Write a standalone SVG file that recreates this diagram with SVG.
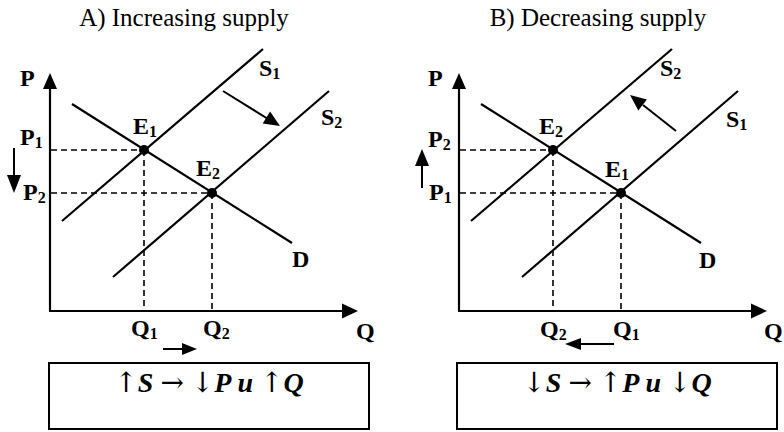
<svg xmlns="http://www.w3.org/2000/svg" width="784" height="432" viewBox="0 0 784 432">
<style>
text{font-family:"Liberation Serif","Times New Roman",serif;fill:#000}
.title{font-size:25px;text-anchor:middle}
.lbl{font-size:24px;font-weight:bold}
.sub{font-size:16px}
.curve{stroke:#000;stroke-width:2.2;fill:none;stroke-linecap:butt}
.axis{stroke:#000;stroke-width:2.2;fill:none}
.dash{stroke:#000;stroke-width:1.6;stroke-dasharray:6 4;fill:none}
.arr{stroke:#000;stroke-width:2;fill:none}
.head{fill:#000;stroke:none}
.box{fill:#fff;stroke:#000;stroke-width:2}
.eq{font-size:28px;text-anchor:middle}
.bi{font-weight:bold;font-style:italic}
.sym{font-family:"DejaVu Serif","Liberation Serif",serif;font-weight:normal;font-style:normal}
</style>
<rect width="784" height="432" fill="#fff"/>
<g id="panelA">
<text class="title" x="184" y="26">A) Increasing supply</text>
<g id="A-axes">
<line class="axis" x1="50" y1="311" x2="50" y2="86"/>
<polygon class="head" points="50,73 43,89 57,89"/>
<line class="axis" x1="49" y1="311" x2="344" y2="311"/>
<polygon class="head" points="358,311 342,303.5 342,318.5"/>
</g>
<g id="A-connectors">
<line class="dash" x1="51" y1="150" x2="144" y2="150"/>
<line class="dash" x1="51" y1="193" x2="212" y2="193"/>
<line class="dash" x1="144" y1="150" x2="144" y2="310"/>
<line class="dash" x1="212" y1="193" x2="212" y2="310"/>
<line class="curve" x1="62" y1="221" x2="263" y2="49"/>
<line class="curve" x1="113" y1="277" x2="329" y2="91"/>
<line class="curve" x1="72" y1="104" x2="292" y2="243"/>
<line class="arr" x1="14" y1="148" x2="14" y2="178"/>
<polygon class="head" points="14,193 7,175 21,175"/>
<line class="arr" x1="223" y1="91" x2="268" y2="119"/>
<polygon class="head" points="280,126 262.7,123.6 270.1,111.6"/>
<line class="arr" x1="163" y1="349" x2="184" y2="349"/>
<polygon class="head" points="197,349 182,343 182,355"/>
</g>
<g id="A-E1"><circle cx="144" cy="150" r="5"/><text class="lbl" x="133" y="134">E<tspan class="sub" dy="3">1</tspan></text></g>
<g id="A-E2"><circle cx="212" cy="193" r="5"/><text class="lbl" x="196" y="176">E<tspan class="sub" dy="3">2</tspan></text></g>
<text class="lbl" x="20" y="86">P</text>
<text class="lbl" x="20" y="145">P<tspan class="sub" dy="3">1</tspan></text>
<text class="lbl" x="23" y="200">P<tspan class="sub" dy="3">2</tspan></text>
<text class="lbl" x="259" y="76">S<tspan class="sub" dy="3">1</tspan></text>
<text class="lbl" x="321" y="125">S<tspan class="sub" dy="3">2</tspan></text>
<text class="lbl" x="292" y="267">D</text>
<text class="lbl" x="131" y="336">Q<tspan class="sub" dy="3">1</tspan></text>
<text class="lbl" x="203" y="336">Q<tspan class="sub" dy="3">2</tspan></text>
<text class="lbl" x="356" y="339">Q</text>
<g id="A-box">
<rect class="box" x="49" y="363" width="320" height="66"/>
<text class="eq" x="209" y="392"><tspan class="sym">↑</tspan><tspan class="bi">S</tspan> <tspan class="sym">→</tspan> <tspan class="sym">↓</tspan><tspan class="bi">P u</tspan> <tspan class="sym">↑</tspan><tspan class="bi">Q</tspan></text>
</g>
</g>
<g id="panelB">
<text class="title" x="598" y="26">B) Decreasing supply</text>
<g id="B-axes">
<line class="axis" x1="459" y1="311" x2="459" y2="86"/>
<polygon class="head" points="459,73 452,89 466,89"/>
<line class="axis" x1="458" y1="311" x2="753" y2="311"/>
<polygon class="head" points="767,311 751,303.5 751,318.5"/>
</g>
<g id="B-connectors">
<line class="dash" x1="460" y1="150" x2="553" y2="150"/>
<line class="dash" x1="460" y1="193" x2="621" y2="193"/>
<line class="dash" x1="553" y1="150" x2="553" y2="310"/>
<line class="dash" x1="621" y1="193" x2="621" y2="310"/>
<line class="curve" x1="471" y1="221" x2="672" y2="49"/>
<line class="curve" x1="522" y1="277" x2="738" y2="91"/>
<line class="curve" x1="481" y1="104" x2="701" y2="243"/>
<line class="arr" x1="422" y1="188" x2="422" y2="163"/>
<polygon class="head" points="422,149 415,166 429,166"/>
<line class="arr" x1="676" y1="131" x2="643" y2="105"/>
<polygon class="head" points="630,95 646.9,99.4 638.3,110.4"/>
<line class="arr" x1="614" y1="344" x2="580" y2="344"/>
<polygon class="head" points="565,344 581,338 581,350"/>
</g>
<g id="B-E2"><circle cx="553" cy="150" r="5"/><text class="lbl" x="539" y="134">E<tspan class="sub" dy="3">2</tspan></text></g>
<g id="B-E1"><circle cx="621" cy="193" r="5"/><text class="lbl" x="605" y="177">E<tspan class="sub" dy="3">1</tspan></text></g>
<text class="lbl" x="428" y="86">P</text>
<text class="lbl" x="428" y="147">P<tspan class="sub" dy="3">2</tspan></text>
<text class="lbl" x="429" y="200">P<tspan class="sub" dy="3">1</tspan></text>
<text class="lbl" x="660" y="76">S<tspan class="sub" dy="3">2</tspan></text>
<text class="lbl" x="726" y="127">S<tspan class="sub" dy="3">1</tspan></text>
<text class="lbl" x="699" y="268">D</text>
<text class="lbl" x="540" y="337">Q<tspan class="sub" dy="3">2</tspan></text>
<text class="lbl" x="613" y="337">Q<tspan class="sub" dy="3">1</tspan></text>
<text class="lbl" x="764" y="339">Q</text>
<g id="B-box">
<rect class="box" x="457" y="363" width="320" height="66"/>
<text class="eq" x="617" y="392"><tspan class="sym">↓</tspan><tspan class="bi">S</tspan> <tspan class="sym">→</tspan> <tspan class="sym">↑</tspan><tspan class="bi">P u</tspan> <tspan class="sym">↓</tspan><tspan class="bi">Q</tspan></text>
</g>
</g>
</svg>
